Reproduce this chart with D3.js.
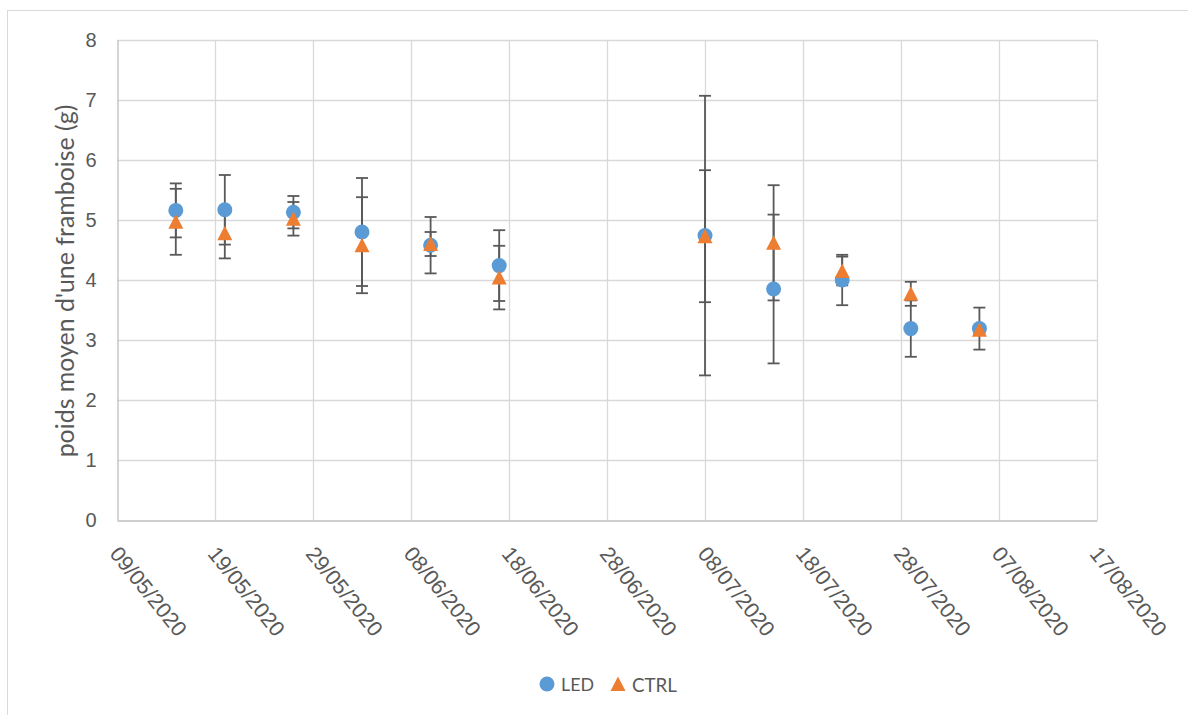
<!DOCTYPE html>
<html><head><meta charset="utf-8">
<script src="https://cdn.jsdelivr.net/npm/d3@7"></script>
<style>html,body{margin:0;padding:0;background:#fff;}svg{display:block;font-family:Lato,"Open Sans",sans-serif;}</style>
</head><body>
<svg id="c" width="1188" height="715"></svg>
<script>
const dates = ["15/05/2020","20/05/2020","27/05/2020","03/06/2020","10/06/2020","17/06/2020","08/07/2020","15/07/2020","22/07/2020","29/07/2020","05/08/2020"];
const ledMean = [5.16, 5.17, 5.13, 4.80, 4.58, 4.24, 4.74, 3.85, 4.00, 3.19, 3.19];
const ledErr  = [0.45, 0.58, 0.27, 0.90, 0.47, 0.59, 2.33, 1.24, 0.42, 0.47, 0.35];
const ctrlMean = [4.97, 4.78, 5.02, 4.58, 4.60, 4.04, 4.73, 4.62, 4.15, 3.77, 3.17];
const ctrlErr  = [0.55, 0.42, 0.28, 0.80, 0.20, 0.53, 1.10, 0.96, 0.24, 0.20, 0.05];
const xTickLabels = ["09/05/2020","19/05/2020","29/05/2020","08/06/2020","18/06/2020","28/06/2020","08/07/2020","18/07/2020","28/07/2020","07/08/2020","17/08/2020"];
const yTicks = [0,1,2,3,4,5,6,7,8];
const seriesNames = ["LED","CTRL"];
const yTitle = "poids moyen d'une framboise (g)";

const parse = d3.timeParse("%d/%m/%Y");
const fmt = d3.timeFormat("%d/%m/%Y");
const svg = d3.select("#c");
const L = 117, R = 1097, T = 40, B = 520;
const x = d3.scaleTime().domain([parse(xTickLabels[0]), parse(xTickLabels[xTickLabels.length-1])]).range([L, R]);
const y = d3.scaleLinear().domain([0, 8]).range([B, T]);
const textCol = "#595959", gridCol = "#d9d9d9";

function fit(sel, target, base) {
  sel.style("font-size", base + "px");
  const w = sel.node().getComputedTextLength();
  const fs = base * target / w;
  sel.style("font-size", fs + "px");
  return fs;
}

// chart border
svg.append("rect").attr("x", 7.5).attr("y", 10.5).attr("width", 1300).attr("height", 900)
  .attr("fill", "none").attr("stroke", gridCol);

// gridlines
svg.append("g").selectAll("line").data(yTicks.slice(1)).join("line")
  .attr("x1", L).attr("x2", R).attr("y1", d => Math.round(y(d)) + 0.5).attr("y2", d => Math.round(y(d)) + 0.5)
  .attr("stroke", gridCol).attr("stroke-width", 1.3);
svg.append("g").selectAll("line").data(xTickLabels.slice(1)).join("line")
  .attr("x1", d => Math.round(x(parse(d))) + 0.5).attr("x2", d => Math.round(x(parse(d))) + 0.5)
  .attr("y1", T).attr("y2", B)
  .attr("stroke", gridCol).attr("stroke-width", 1.3);

// axes
const yAxis = svg.append("g").attr("transform", `translate(${L + 0.5},0)`)
  .call(d3.axisLeft(y).tickValues(yTicks).tickSize(0).tickPadding(20));
yAxis.select(".domain").attr("stroke", "#bfbfbf").attr("stroke-width", 1.3);
yAxis.selectAll("text").attr("fill", textCol).style("font-size", "20px").attr("x", -21);

const xAxis = svg.append("g").attr("transform", `translate(0,${B + 0.5})`)
  .call(d3.axisBottom(x).tickValues(xTickLabels.map(parse)).tickFormat(fmt).tickSize(0));
xAxis.select(".domain").attr("stroke", "#bfbfbf").attr("stroke-width", 1.3);
const xt = xAxis.selectAll("text").attr("fill", textCol)
  .attr("text-anchor", "start").attr("dy", null).attr("y", null)
  .attr("dominant-baseline", "central")
  .attr("transform", "translate(-3,29) rotate(51)");
const fsx = fit(d3.select(xt.nodes()[0]), 108, 20);
xt.style("font-size", fsx + "px");

// y title
const yt = svg.append("text").attr("transform", `translate(64,${(T + B) / 2 + 1}) rotate(-90)`)
  .attr("text-anchor", "middle").attr("dominant-baseline", "central")
  .attr("fill", textCol).text(yTitle);
fit(yt, 353, 22);

// data
const led = dates.map((d, i) => ({ t: parse(d), m: ledMean[i], e: ledErr[i] }));
const ctrl = dates.map((d, i) => ({ t: parse(d), m: ctrlMean[i], e: ctrlErr[i] }));
const ebCol = "#595959";
function errorBars(data) {
  const g = svg.append("g").attr("stroke", ebCol).attr("stroke-width", 1.8);
  g.selectAll(".v").data(data).join("line")
    .attr("x1", d => x(d.t)).attr("x2", d => x(d.t))
    .attr("y1", d => y(d.m + d.e)).attr("y2", d => y(d.m - d.e));
  g.selectAll(".c1").data(data).join("line")
    .attr("x1", d => x(d.t) - 6).attr("x2", d => x(d.t) + 6)
    .attr("y1", d => y(d.m + d.e)).attr("y2", d => y(d.m + d.e));
  g.selectAll(".c2").data(data).join("line")
    .attr("x1", d => x(d.t) - 6).attr("x2", d => x(d.t) + 6)
    .attr("y1", d => y(d.m - d.e)).attr("y2", d => y(d.m - d.e));
}
errorBars(led);
errorBars(ctrl);
const triPath = "M0,-7.5L7.5,7L-7.5,7Z";
svg.append("g").selectAll("circle").data(led).join("circle")
  .attr("cx", d => x(d.t)).attr("cy", d => y(d.m)).attr("r", 7.5).attr("fill", "#5b9bd5");
svg.append("g").selectAll("path").data(ctrl).join("path")
  .attr("transform", d => `translate(${x(d.t)},${y(d.m)})`).attr("d", triPath).attr("fill", "#ed7d31");

// legend
const lg = svg.append("g");
lg.append("circle").attr("cx", 547).attr("cy", 684).attr("r", 7.5).attr("fill", "#5b9bd5");
const l1 = lg.append("text").attr("x", 561).attr("y", 684).attr("dominant-baseline", "central").attr("fill", textCol).text(seriesNames[0]);
fit(l1, 33, 20);
lg.append("path").attr("transform", "translate(618,684)").attr("d", triPath).attr("fill", "#ed7d31");
const l2 = lg.append("text").attr("x", 632).attr("y", 684).attr("dominant-baseline", "central").attr("fill", textCol).text(seriesNames[1]);
fit(l2, 45, 20);
</script>
</body></html>
